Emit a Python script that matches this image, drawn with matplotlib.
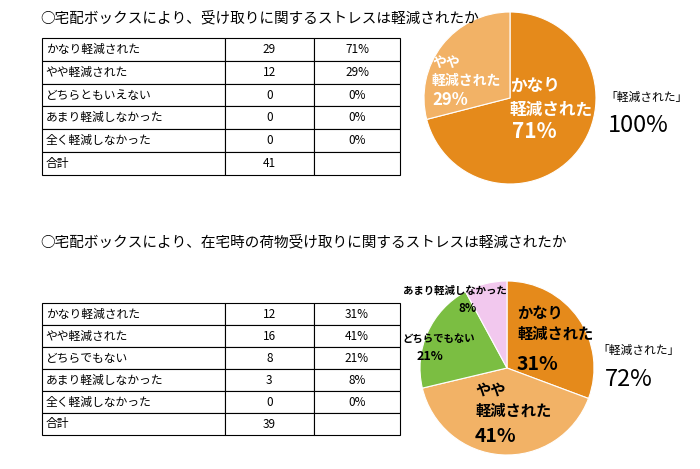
import matplotlib
matplotlib.use("Agg")
import matplotlib.pyplot as plt

plt.rcParams["font.family"] = "Noto Sans CJK JP"

title1 = "○宅配ボックスにより、受け取りに関するストレスは軽減されたか"
cats1 = ["かなり軽減された", "やや軽減された", "どちらともいえない", "あまり軽減しなかった", "全く軽減しなかった"]
counts1 = [29, 12, 0, 0, 0]
pcts1 = [71, 29, 0, 0, 0]
total1 = 41

title2 = "○宅配ボックスにより、在宅時の荷物受け取りに関するストレスは軽減されたか"
cats2 = ["かなり軽減された", "やや軽減された", "どちらでもない", "あまり軽減しなかった", "全く軽減しなかった"]
counts2 = [12, 16, 8, 3, 0]
pcts2 = [31, 41, 21, 8, 0]
total2 = 39

DARK = "#E58A1B"
LIGHT = "#F2B266"
GREEN = "#7BBE42"
PINK = "#F2C8EE"

W, H = 700, 469
fig = plt.figure(figsize=(7, 4.69), dpi=100)

def px_axes(x0, y0, x1, y1):
    return fig.add_axes([x0 / W, 1 - y1 / H, (x1 - x0) / W, (y1 - y0) / H])

def draw_table(x0, y0, x1, y1, cats, counts, pcts, total):
    ax = px_axes(x0, y0, x1, y1); ax.axis("off")
    rows = [[c, str(n), f"{p}%"] for c, n, p in zip(cats, counts, pcts)]
    rows.append(["合計", str(total), ""])
    t = ax.table(cellText=rows, bbox=[0, 0, 1, 1], colWidths=[0.51, 0.25, 0.24])
    t.auto_set_font_size(False)
    for (r, c), cell in t.get_celld().items():
        cell.set_linewidth(0.8)
        cell.get_text().set_fontsize(8.5)
        cell.get_text().set_ha("left" if c == 0 else "center")
        if c == 0:
            cell.PAD = 0.02

draw_table(42, 38, 400, 175, cats1, counts1, pcts1, total1)
draw_table(42, 303, 400, 435, cats2, counts2, pcts2, total2)

# pies
pa = px_axes(424, 12, 596, 184)
pa.pie(pcts1[:2], colors=[DARK, LIGHT], startangle=90, counterclock=False,
       wedgeprops=dict(edgecolor="white", linewidth=0.8))
pa.set_xlim(-1, 1); pa.set_ylim(-1, 1); pa.set_aspect("equal")
pb = px_axes(420, 281, 594, 455)
pb.pie(pcts2[:4], colors=[DARK, LIGHT, GREEN, PINK], startangle=90, counterclock=False,
       wedgeprops=dict(edgecolor="white", linewidth=0.8))
pb.set_xlim(-1, 1); pb.set_ylim(-1, 1); pb.set_aspect("equal")

# text overlay (added last so it is on top)
bg = fig.add_axes([0, 0, 1, 1])
bg.set_xlim(0, W); bg.set_ylim(H, 0); bg.axis("off"); bg.patch.set_alpha(0)

bg.text(40, 18, title1, fontsize=10.5, va="center", ha="left")
bg.text(40, 242, title2, fontsize=10.5, va="center", ha="left")

# top pie labels
bg.text(510, 98, "かなり\n軽減された", color="white", fontsize=12, fontweight="bold", ha="left", va="center", linespacing=1.4)
bg.text(512, 132, f"{pcts1[0]}%", color="white", fontsize=15, fontweight="bold", ha="left", va="center")
bg.text(432, 72, "やや\n軽減された", color="white", fontsize=10, fontweight="bold", ha="left", va="center", linespacing=1.3)
bg.text(432, 100, f"{pcts1[1]}%", color="white", fontsize=12, fontweight="bold", ha="left", va="center")
bg.text(605, 97, "「軽減された」", fontsize=8.5, ha="left", va="center")
bg.text(608, 126, "100%", fontsize=17, ha="left", va="center")

# bottom pie labels
bg.text(517, 323, "かなり\n軽減された", fontsize=11, fontweight="bold", ha="left", va="center", linespacing=1.4)
bg.text(517, 364, f"{pcts2[0]}%", fontsize=14, fontweight="bold", ha="left", va="center")
bg.text(475, 400, "やや\n軽減された", fontsize=11, fontweight="bold", ha="left", va="center", linespacing=1.4)
bg.text(475, 436, f"{pcts2[1]}%", fontsize=14, fontweight="bold", ha="left", va="center")
bg.text(402, 340, "どちらでもない", fontsize=7.5, fontweight="bold", ha="left", va="center")
bg.text(430, 357, f"{pcts2[2]}%", fontsize=9, fontweight="bold", ha="center", va="center")
bg.text(403, 291, "あまり軽減しなかった", fontsize=7.5, fontweight="bold", ha="left", va="center")
bg.text(468, 309, f"{pcts2[3]}%", fontsize=8.5, fontweight="bold", ha="center", va="center")
bg.text(597, 350, "「軽減された」", fontsize=8.5, ha="left", va="center")
bg.text(605, 380, f"{pcts2[0] + pcts2[1]}%", fontsize=17, ha="left", va="center")

fig.savefig("out.png", dpi=100)
